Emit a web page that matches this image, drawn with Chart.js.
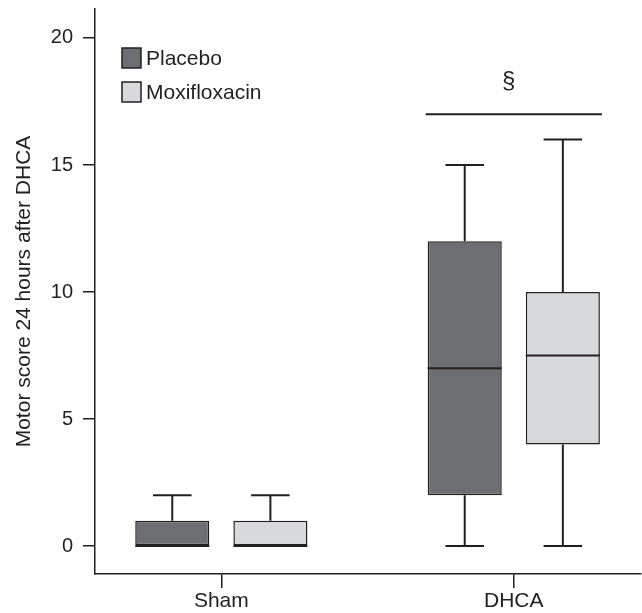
<!DOCTYPE html>
<html>
<head>
<meta charset="utf-8">
<script src="https://cdn.jsdelivr.net/npm/chart.js@4"></script>
<style>
  html, body { margin: 0; padding: 0; background: #fff; }
  #wrap { width: 642px; height: 613px; }
</style>
</head>
<body>
<div id="wrap"><canvas id="grafico" width="642" height="613"></canvas></div>
<script>
// dados
const groups = ['Sham', 'DHCA'];
const seriesNames = ['Placebo', 'Moxifloxacin'];

const placeboMin = [0, 0];
const placeboQ1 = [0, 2];
const placeboMedian = [0, 7];
const placeboQ3 = [1, 12];
const placeboMax = [2, 15];

const moxiMin = [0, 0];
const moxiQ1 = [0, 4];
const moxiMedian = [0, 7.5];
const moxiQ3 = [1, 10];
const moxiMax = [2, 16];

const yTicks = [0, 5, 10, 15, 20];
const sigGroup = 'DHCA';
const sigValue = 17;
const sigMark = '§';

const ink = '#231f20';
const fonte = '"Liberation Sans", Arial, sans-serif';

const stats = [
  { min: placeboMin, med: placeboMedian, max: placeboMax },
  { min: moxiMin, med: moxiMedian, max: moxiMax }
];

const boxPlugin = {
  id: 'boxExtras',
  afterDatasetsDraw(chart) {
    const ctx = chart.ctx;
    const y = chart.scales.y;
    ctx.save();
    ctx.strokeStyle = ink;
    ctx.lineWidth = 2;
    stats.forEach((s, d) => {
      const meta = chart.getDatasetMeta(d);
      meta.data.forEach((bar, i) => {
        const p = bar.getProps(['x', 'y', 'base', 'width'], true);
        const top = Math.min(p.y, p.base);
        const bottom = Math.max(p.y, p.base);
        const cap = p.width * 0.26;
        const yMax = y.getPixelForValue(s.max[i]);
        const yMin = y.getPixelForValue(s.min[i]);
        const yMed = y.getPixelForValue(s.med[i]);
        ctx.beginPath();
        // bigodes
        ctx.moveTo(p.x, top); ctx.lineTo(p.x, yMax);
        ctx.moveTo(p.x - cap, yMax); ctx.lineTo(p.x + cap, yMax);
        ctx.moveTo(p.x, bottom); ctx.lineTo(p.x, yMin);
        ctx.moveTo(p.x - cap, yMin); ctx.lineTo(p.x + cap, yMin);
        // mediana
        ctx.moveTo(p.x - p.width / 2, yMed); ctx.lineTo(p.x + p.width / 2, yMed);
        ctx.stroke();
      });
    });

    // linha de significância
    const gi = groups.indexOf(sigGroup);
    const b0 = chart.getDatasetMeta(0).data[gi];
    const b1 = chart.getDatasetMeta(1).data[gi];
    const x0 = b0.x - b0.width / 2 - 2;
    const x1 = b1.x + b1.width / 2 + 2;
    const ys = y.getPixelForValue(sigValue);
    ctx.beginPath();
    ctx.moveTo(x0, ys); ctx.lineTo(x1, ys);
    ctx.stroke();
    ctx.fillStyle = ink;
    ctx.font = '24px ' + fonte;
    ctx.textAlign = 'center';
    ctx.textBaseline = 'middle';
    ctx.fillText(sigMark, (x0 + x1) / 2 - 5, ys - 33);

    // legenda
    ctx.font = '21px ' + fonte;
    ctx.textAlign = 'left';
    chart.data.datasets.forEach((ds, d) => {
      const ly = 48 + d * 34;
      ctx.fillStyle = ds.backgroundColor;
      ctx.fillRect(122, ly, 19, 20);
      ctx.lineWidth = 1.5;
      ctx.strokeRect(122, ly, 19, 20);
      ctx.fillStyle = ink;
      ctx.fillText(ds.label, 146, ly + 11);
    });
    ctx.restore();
  }
};

new Chart(document.getElementById('grafico'), {
  type: 'bar',
  data: {
    datasets: [
      {
        label: seriesNames[0],
        data: groups.map((g, i) => ({ x: i + 1, y: [placeboQ1[i], placeboQ3[i]] })),
        backgroundColor: '#6d6e71',
        borderColor: ink,
        borderWidth: 1.5,
        borderSkipped: false
      },
      {
        label: seriesNames[1],
        data: groups.map((g, i) => ({ x: i + 1, y: [moxiQ1[i], moxiQ3[i]] })),
        backgroundColor: '#d8d9da',
        borderColor: ink,
        borderWidth: 1.5,
        borderSkipped: false
      }
    ]
  },
  options: {
    responsive: false,
    animation: false,
    categoryPercentage: 0.671,
    barPercentage: 0.755,
    layout: { padding: { top: 9, right: 1, left: 0, bottom: 0 } },
    plugins: {
      legend: { display: false },
      tooltip: { enabled: false }
    },
    scales: {
      x: {
        type: 'linear',
        offset: false,
        min: 0.568,
        max: 2.435,
        afterBuildTicks: s => { s.ticks = groups.map((g, i) => ({ value: i + 1 })); },
        afterFit: s => { s.height = 39; s.paddingLeft = 0; s.paddingRight = 0; },
        border: { color: ink, width: 1.5 },
        grid: { offset: false, drawOnChartArea: false, tickLength: 14, color: ink, lineWidth: 1.5 },
        ticks: {
          autoSkip: false,
          maxRotation: 0,
          padding: 1,
          color: ink,
          font: { family: fonte, size: 21 },
          callback: v => groups[v - 1]
        }
      },
      y: {
        min: -1.1,
        max: 21.14,
        afterBuildTicks: s => { s.ticks = yTicks.map(v => ({ value: v })); },
        afterFit: s => { s.width = 95; s.paddingTop = 0; s.paddingBottom = 0; },
        border: { color: ink, width: 1.5 },
        grid: { drawOnChartArea: false, tickLength: 12, color: ink, lineWidth: 1.5 },
        ticks: {
          padding: 10,
          color: ink,
          font: { family: fonte, size: 20 }
        },
        title: {
          display: true,
          text: 'Motor score 24 hours after DHCA',
          color: ink,
          font: { family: fonte, size: 21 },
          padding: { top: 12, bottom: 0 }
        }
      }
    }
  },
  plugins: [boxPlugin]
});
</script>
</body>
</html>
